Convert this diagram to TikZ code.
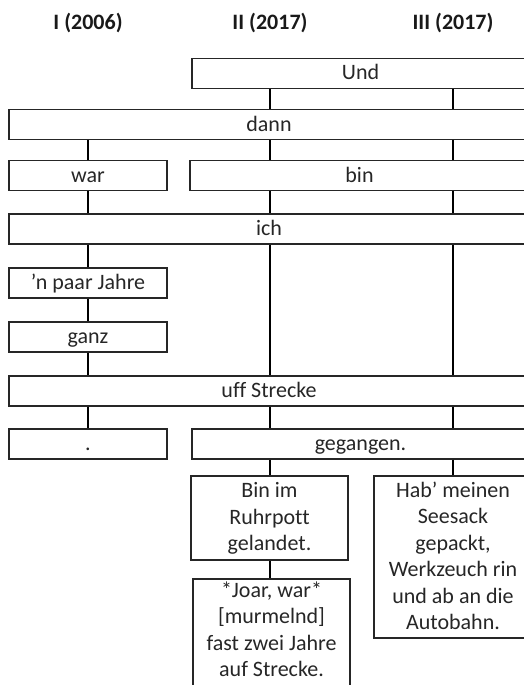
\documentclass[tikz,border=0pt]{standalone}
\usepackage{fontspec}
\setmainfont{Carlito}[Ligatures=NoCommon]
\begin{document}
\begin{tikzpicture}[x=1pt,y=-1pt,
  box/.style={draw=black!85, line width=1.3pt, rectangle, inner sep=0pt},
  word/.style={box, font=\fontsize{22}{26.5}\selectfont, text=black!85,
    text height=17pt, text depth=4pt, minimum height=30pt},
  frame/.style={box, minimum width=157pt},
  multi/.style={inner sep=0pt, align=center, anchor=north,
    font=\fontsize{22}{26.5}\selectfont, text=black!85},
  head/.style={font=\fontsize{22}{26.5}\selectfont\bfseries, text=black!90,
    inner sep=0pt, anchor=base},
  conn/.style={line width=2.7pt, black}]

\useasboundingbox (0,0) rectangle (524,685);
\clip (0,0) rectangle (524,685);

% column axes
\coordinate (cI)   at (88,0);
\coordinate (cII)  at (270,0);
\coordinate (cIII) at (453,0);

% column headings
\node[head] (hI)   at (88,29.5)  {I (2006)};
\node[head] (hII)  at (270,29.5) {II (2017)};
\node[head] (hIII) at (453,29.5) {III (2017)};

% single-line fields
\node[word, minimum width=337pt] (und)   at (360.5,73.5) {Und};
\node[word, minimum width=520pt] (dann)  at (269,124.5)  {dann};
\node[word, minimum width=158pt] (war)   at (88,175.5)   {war};
\node[word, minimum width=339pt] (bin)   at (359.5,175.5){bin};
\node[word, minimum width=520pt] (ich)   at (269,229)    {ich};
\node[word, minimum width=158pt] (npaar) at (88,283)     {’n paar Jahre};
\node[word, minimum width=158pt] (ganz)  at (88,337)     {ganz};
\node[word, minimum width=520pt] (uff)   at (269,391)    {uff Strecke};
\node[word, minimum width=158pt] (dot)   at (88,444)     {.};
\node[word, minimum width=337pt] (geg)   at (360.5,444)  {gegangen.};

% multi-line fields
\node[frame, minimum height=84pt]  (binbox)  at (269.5,518) {};
\node[frame, minimum height=141pt] (joarbox) at (271.5,649.5) {};
\node[frame, minimum width=158pt, minimum height=162pt] (habbox) at (453,557) {};

\node[multi] (bintext)  at ([yshift=-7pt]binbox.north)
  {Bin im\\Ruhrpott\\gelandet.};
\node[multi] (joartext) at ([yshift=-3pt]joarbox.north)
  {*Joar, war*\\{}[murmelnd]\\fast zwei Jahre\\auf Strecke.};
\node[multi] (habtext)  at ([yshift=-6pt]habbox.north)
  {Hab’ meinen\\Seesack\\gepackt,\\Werkzeuch rin\\und ab an die\\Autobahn.};

% connectors, column I
\foreach \a/\b in {dann/war, war/ich, ich/npaar, npaar/ganz, ganz/uff, uff/dot}
  \draw[conn] (\a.south -| cI) -- (\b.north -| cI);
% connectors, column II
\foreach \a/\b in {und/dann, dann/bin, bin/ich, ich/uff, uff/geg, geg/binbox, binbox/joarbox}
  \draw[conn] (\a.south -| cII) -- (\b.north -| cII);
% connectors, column III
\foreach \a/\b in {und/dann, dann/bin, bin/ich, ich/uff, uff/geg, geg/habbox}
  \draw[conn] (\a.south -| cIII) -- (\b.north -| cIII);
\end{tikzpicture}
\end{document}
